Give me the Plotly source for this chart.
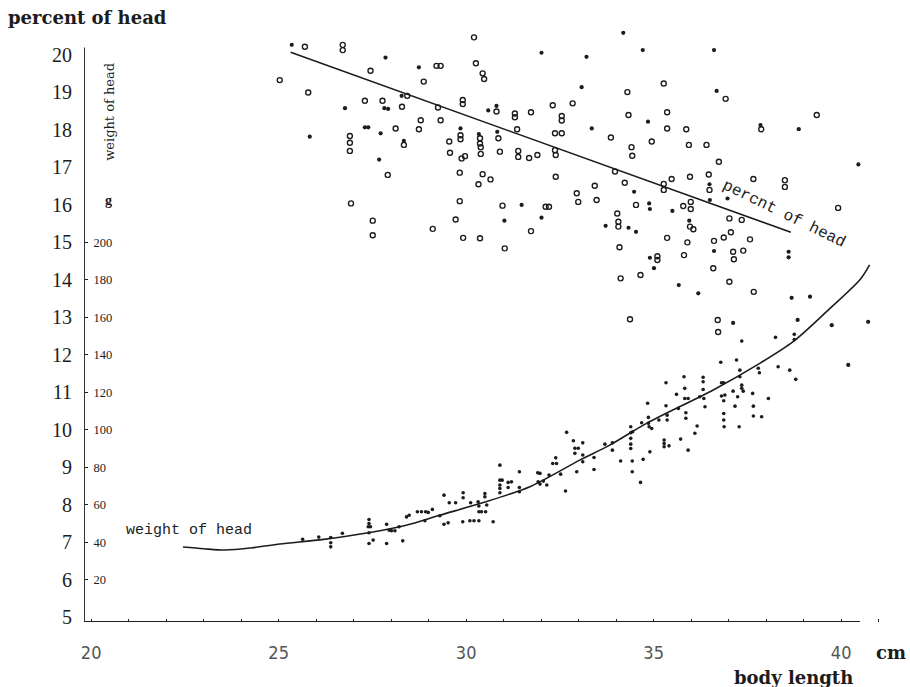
import plotly.graph_objects as go

# ---------------- data ----------------
# percent of head (%) vs body length (cm) — printed as open circles
pct_open_x = [25.70, 26.71, 26.71, 25.03, 25.79, 27.45, 29.21, 29.32, 28.87, 30.21, 30.26, 30.44, 30.48,
              32.31, 32.84, 32.55, 32.55, 32.37, 32.55, 32.37, 32.39, 32.39, 32.95, 32.99, 33.43, 33.48,
              27.30, 27.77, 28.43, 28.29, 26.90, 26.90, 26.90, 28.12, 28.34, 27.91, 26.93, 27.51, 27.51,
              28.79, 28.74, 29.32, 29.25, 29.55, 29.57, 29.85, 29.85, 29.88, 29.97, 29.91, 29.91,
              30.37, 30.37, 30.39, 30.39, 30.86, 30.90, 31.39, 31.39, 31.68, 31.90, 31.30, 31.30, 31.73,
              30.81, 31.36, 29.83, 30.44, 30.65, 30.33, 29.83, 29.72, 29.11, 29.92, 30.37, 30.97, 32.12,
              32.21, 31.73, 31.03, 35.27, 34.30, 36.92, 39.35, 34.33, 35.36, 35.36, 35.87, 37.87, 33.86,
              34.95, 34.41, 34.43, 35.94, 36.41, 36.74, 33.97, 34.23, 35.27, 35.27, 35.48, 35.97, 36.47,
              36.49, 37.66, 38.50, 38.50, 39.92, 34.53, 35.79, 35.99, 35.99, 37.02, 37.35, 34.03, 34.06,
              34.06, 35.97, 36.06, 35.36, 35.90, 36.61, 36.87, 37.06, 37.57, 34.09, 35.10, 35.10, 35.81,
              37.12, 37.39, 37.14, 36.59, 37.02, 34.12, 34.65, 37.67, 34.37, 36.71, 36.72]
pct_open_y = [20.22, 20.27, 20.13, 19.33, 19.00, 19.58, 19.71, 19.71, 19.29, 20.47, 19.78, 19.51, 19.36,
              18.66, 18.71, 18.37, 18.25, 17.91, 17.91, 17.46, 17.33, 16.75, 16.31, 16.08, 16.51, 16.13,
              18.78, 18.78, 18.91, 18.62, 17.84, 17.66, 17.44, 18.04, 17.60, 16.80, 16.04, 15.58, 15.19,
              18.26, 18.02, 18.26, 18.60, 17.69, 17.39, 17.86, 17.75, 17.24, 17.30, 18.80, 18.69,
              17.78, 17.64, 17.54, 17.36, 17.78, 17.42, 17.44, 17.28, 17.25, 17.33, 18.44, 18.34, 18.47,
              18.49, 18.02, 16.86, 16.82, 16.68, 16.55, 16.10, 15.61, 15.36, 15.12, 15.11, 15.98, 15.95,
              15.95, 15.30, 14.84, 19.24, 19.01, 18.83, 18.40, 18.40, 18.47, 18.04, 18.02, 18.02, 17.80,
              17.69, 17.54, 17.31, 17.60, 17.60, 17.15, 16.89, 16.59, 16.56, 16.40, 16.69, 16.75, 16.81,
              16.40, 16.69, 16.66, 16.48, 15.92, 16.00, 15.97, 16.08, 15.89, 15.64, 15.60, 15.77, 15.55,
              15.42, 15.42, 15.35, 15.12, 15.00, 15.04, 15.13, 15.27, 15.08, 14.87, 14.63, 14.53, 14.66,
              14.75, 14.78, 14.55, 14.31, 13.95, 14.04, 14.13, 13.68, 12.95, 12.93, 12.61]

# percent of head points that print as solid dots
pct_solid_x = [25.35, 25.83, 27.85, 28.74, 32.01, 33.21, 33.08, 33.35, 26.77, 27.82, 27.92, 28.28, 27.30,
               27.39, 27.72, 28.34, 27.68, 29.85, 30.34, 30.83, 30.81, 30.59, 31.48, 31.02, 32.01, 34.19,
               34.71, 36.61, 36.68, 34.85, 37.85, 38.87, 40.46, 34.48, 36.49, 34.88, 34.90, 35.50, 36.50,
               36.97, 33.72, 34.33, 34.53, 35.95, 34.90, 35.01, 36.61, 38.60, 38.60, 35.67, 36.19, 38.68,
               39.17, 37.12, 38.84, 39.75, 40.72, 40.19]
pct_solid_y = [20.27, 17.82, 19.93, 19.67, 20.06, 19.95, 19.14, 18.04, 18.58, 18.58, 18.56, 18.91, 18.07,
               18.07, 17.91, 17.71, 17.21, 18.04, 17.89, 17.95, 18.64, 18.52, 16.00, 15.58, 15.66, 20.59,
               20.13, 20.13, 19.04, 18.22, 18.13, 18.02, 17.08, 16.35, 16.55, 16.04, 15.89, 15.84, 16.13,
               16.17, 15.44, 15.39, 15.28, 15.58, 14.59, 14.31, 14.77, 14.75, 14.60, 13.86, 13.64, 13.52,
               13.55, 12.85, 12.93, 12.79, 12.88, 11.73]

# weight of head (g) vs body length (cm)
wt_x = [25.64, 26.07, 26.39, 26.39, 26.39, 26.70, 27.41, 27.41, 27.39, 27.45, 27.41, 27.41, 27.52, 27.88,
        27.88, 27.95, 28.01, 28.10, 28.21, 28.31, 28.41, 28.48, 28.70, 28.81, 28.92, 28.99, 29.10, 28.90,
        29.30, 29.41, 29.41, 29.52, 29.55, 29.72, 29.92, 29.92, 29.91, 30.10, 30.21, 30.34, 30.12, 30.32,
        30.34, 30.34, 30.41, 30.52, 30.50, 30.50, 30.55, 30.72, 30.90, 30.90, 30.90, 30.90, 30.90, 30.96,
        31.12, 31.12, 31.21, 31.42, 31.42, 31.42, 31.91, 31.97, 31.92, 31.97, 32.06, 32.15, 32.21, 32.31,
        32.41, 32.39, 32.52, 32.65, 32.68, 32.86, 32.90, 32.99, 32.90, 32.95,
        33.11, 33.11, 33.11, 33.41, 33.41, 33.70, 33.90, 33.90, 34.12, 34.39, 34.39, 34.44, 34.39, 34.39,
        34.39, 34.43, 34.43, 34.65, 34.72, 34.68, 34.84, 34.86, 34.86, 34.88, 34.95, 34.90, 35.14, 35.33,
        35.33, 35.36, 35.36, 35.28, 35.28, 35.28, 35.41, 35.66, 35.61, 35.72, 35.81, 35.83, 35.83, 35.92,
        35.86, 35.86, 35.92, 36.10, 36.16, 36.23, 36.32, 36.32, 36.32, 36.34, 36.37, 36.79, 36.81, 36.87,
        36.81, 36.90, 36.87, 36.87, 36.87, 36.88, 37.12, 37.17, 37.21, 37.24, 37.28, 37.30, 37.30, 37.35,
        37.35, 37.39, 37.35, 37.64, 37.66, 37.66, 37.79, 37.82, 37.88, 38.06, 38.25, 38.32, 38.63, 38.75,
        38.75, 38.79]
wt_g = [41.5, 42.7, 42.5, 39.7, 37.5, 44.7, 52.1, 50.0, 48.2, 48.2, 45.0, 39.3, 41.1, 49.5,
        39.3, 46.4, 46.1, 46.1, 48.2, 40.7, 53.5, 54.4, 56.2, 56.2, 56.2, 55.9, 57.5, 51.4,
        54.1, 65.1, 49.6, 50.3, 61.0, 61.0, 66.4, 63.7, 50.9, 51.4, 51.4, 51.4, 61.0, 61.5,
        59.3, 56.2, 56.2, 56.2, 66.0, 64.2, 59.8, 50.9, 81.1, 73.1, 70.5, 68.7, 66.4, 73.1,
        71.9, 69.2, 72.2, 77.6, 69.2, 66.9, 77.0, 76.7, 72.2, 71.0, 72.6, 70.5, 75.8, 82.0,
        82.0, 85.0, 76.3, 67.3, 98.6, 94.1, 90.1, 90.1, 87.4, 77.6,
        93.0, 86.5, 82.9, 85.2, 78.8, 92.3, 93.0, 89.1, 83.3, 101.6, 98.4, 98.9, 95.4, 92.3,
        90.0, 83.3, 77.6, 71.9, 84.2, 103.7, 114.1, 106.6, 103.4, 101.6, 100.7, 88.2, 105.2, 125.1,
        112.8, 107.8, 105.2, 94.5, 92.7, 90.9, 91.4, 111.4, 118.9, 95.0, 128.3, 122.1, 116.7, 116.7,
        109.1, 106.1, 89.1, 98.1, 102.0, 117.6, 128.0, 125.6, 121.5, 116.7, 112.3, 136.0, 125.1, 125.1,
        118.0, 118.5, 115.5, 108.7, 105.2, 101.6, 120.6, 112.6, 137.2, 117.6, 101.6, 131.8, 128.3, 123.8,
        122.1, 120.6, 147.3, 119.4, 112.6, 107.3, 132.8, 130.4, 106.9, 116.7, 149.3, 133.6, 131.8, 150.9,
        148.2, 126.9]

# hand-drawn fitted curve for weight of head (g)
curve_x = [22.45, 23.0, 23.56, 24.3, 25.03, 26.2, 27.4, 28.4, 29.3, 30.37, 31.7, 33.03, 33.83,
           34.81, 36.59, 37.83, 38.72, 39.61, 40.5, 40.76]
curve_g = [37.4, 36.5, 35.8, 37.0, 39.0, 41.5, 45.0, 49.0, 54.4, 60.6, 69.6, 83.8, 91.8,
           103.4, 121.2, 135.4, 147.0, 163.0, 180.0, 188.0]

# straight line drawn through the percent cloud
pline_x = [25.32, 38.66]
pline_y = [20.07, 15.27]

pct_ticks = list(range(5, 21))
g_ticks = list(range(20, 201, 20))
x_ticks = [20, 25, 30, 35, 40]

# ---------------- figure ----------------
X_RANGE = [19.81, 41.17]
Y_RANGE = [4.87, 20.80]
G_PER_PCT = 20  # 200 g sits on the 15 % line, 0 g on the 5 % line
G_RANGE = [(v - 5) * G_PER_PCT for v in Y_RANGE]
PLOT_W, PLOT_H = 801, 597

INK = "#1c1c1c"
SERIF = "Liberation Serif, Times New Roman, serif"
DSERIF = "DejaVu Serif, serif"
MONO = "Liberation Mono, Courier New, monospace"

fig = go.Figure()

fig.add_trace(go.Scatter(x=pct_open_x, y=pct_open_y, mode="markers",
                         marker=dict(symbol="circle-open", size=5, color=INK, line=dict(width=1.4, color=INK)),
                         showlegend=False, hoverinfo="skip"))
fig.add_trace(go.Scatter(x=pct_solid_x, y=pct_solid_y, mode="markers",
                         marker=dict(symbol="circle", size=4.2, color=INK),
                         showlegend=False, hoverinfo="skip"))
fig.add_trace(go.Scatter(x=pline_x, y=pline_y, mode="lines",
                         line=dict(color=INK, width=1.6),
                         showlegend=False, hoverinfo="skip"))
fig.add_trace(go.Scatter(x=wt_x, y=wt_g, mode="markers", yaxis="y2",
                         marker=dict(symbol="circle", size=3.6, color=INK),
                         showlegend=False, hoverinfo="skip"))
fig.add_trace(go.Scatter(x=curve_x, y=curve_g, mode="lines", yaxis="y2",
                         line=dict(color=INK, width=1.6, shape="spline", smoothing=0.8),
                         showlegend=False, hoverinfo="skip"))

# axis lines (hand drawn: the x axis stops at 40.5, the y axis at about 20.2)
fig.add_shape(type="line", xref="x", yref="y", x0=X_RANGE[0], x1=40.5, y0=Y_RANGE[0], y1=Y_RANGE[0],
              line=dict(color=INK, width=1.8))
fig.add_shape(type="line", xref="x", yref="y", x0=X_RANGE[0], x1=X_RANGE[0], y0=Y_RANGE[0], y1=20.2,
              line=dict(color=INK, width=1.8))

fig.update_layout(
    width=910, height=687,
    margin=dict(l=84, r=25, t=25, b=65),
    paper_bgcolor="white", plot_bgcolor="white",
    xaxis=dict(range=X_RANGE, tickmode="array", tickvals=x_ticks, ticktext=[str(v) for v in x_ticks],
               ticks="", showgrid=False, zeroline=False, showline=False, ticklabelstandoff=18,
               tickfont=dict(family="Liberation Sans Narrow, DejaVu Sans Condensed, sans-serif",
                             size=18, color="#555555"),
               minor=dict(ticks="inside", dtick=1, ticklen=3, tickcolor=INK, tickwidth=1, showgrid=False)),
    yaxis=dict(range=Y_RANGE, tickvals=pct_ticks, ticks="", showgrid=False, zeroline=False,
               showline=False, ticklabelstandoff=11,
               tickfont=dict(family=SERIF, size=20, color=INK)),
    yaxis2=dict(range=G_RANGE, overlaying="y", side="right", anchor="free", position=0,
                tickvals=g_ticks, ticks="outside", ticklen=3, tickcolor=INK, ticklabelstandoff=3,
                showgrid=False, zeroline=False, showline=False,
                tickfont=dict(family=SERIF, size=12.5, color=INK)),
)

ann = [
    dict(text="<b>percent of head</b>", xref="paper", yref="paper", x=-78 / PLOT_W, y=1 + 7 / PLOT_H,
         xanchor="left", yanchor="middle", font=dict(family=DSERIF, size=18, color=INK)),
    dict(text="<b>body length</b>", xref="x", yref="paper", x=38.74, y=-55 / PLOT_H,
         xanchor="center", yanchor="middle", font=dict(family=DSERIF, size=18, color=INK)),
    dict(text="<b>cm</b>", xref="paper", yref="paper", x=807 / PLOT_W, y=-30 / PLOT_H,
         xanchor="center", yanchor="middle", font=dict(family=DSERIF, size=18, color=INK)),
    dict(text="weight of head", xref="x", yref="y", x=20.5, y=18.48, textangle=-90,
         xanchor="center", yanchor="middle", font=dict(family=DSERIF, size=13, color=INK)),
    dict(text="<b>g</b>", xref="x", yref="y", x=20.45, y=16.13,
         xanchor="center", yanchor="middle", font=dict(family=SERIF, size=14, color=INK)),
    dict(text="weight of head", xref="x", yref="y", x=22.6, y=7.32,
         xanchor="center", yanchor="middle", font=dict(family=MONO, size=15, color=INK)),
    dict(text="percnt of head", xref="x", yref="y", x=38.47, y=15.77, textangle=26,
         xanchor="center", yanchor="middle", font=dict(family=MONO, size=16, color=INK)),
]
for a in ann:
    a["showarrow"] = False
    fig.add_annotation(**a)

fig.write_html("out.html")
